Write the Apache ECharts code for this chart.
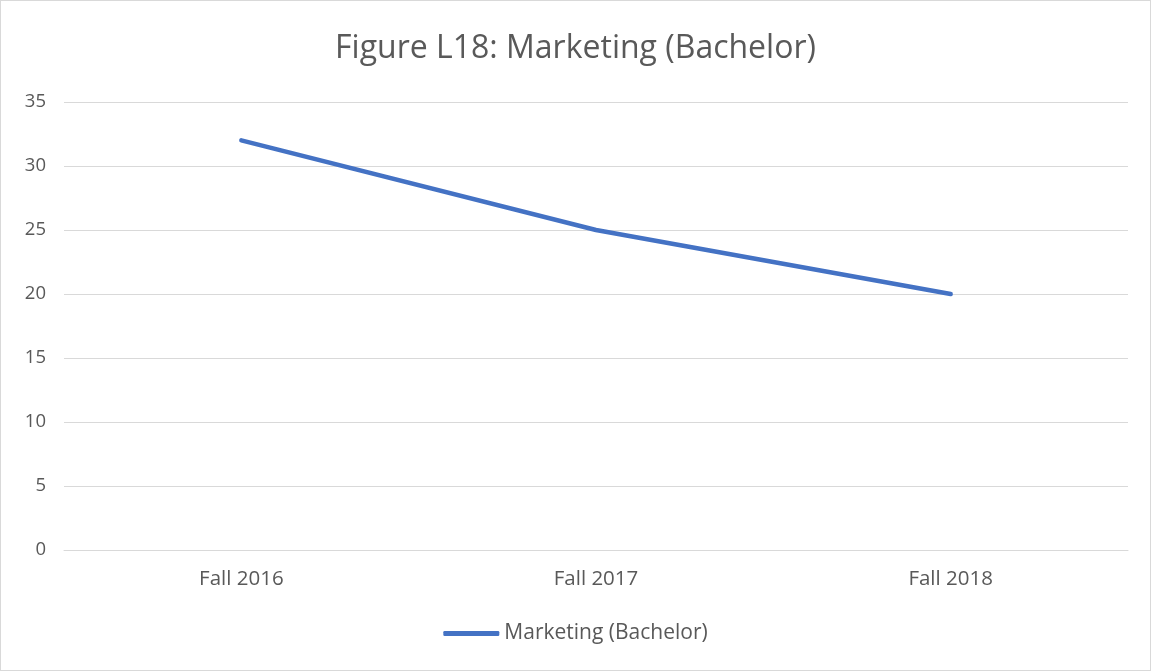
<!DOCTYPE html>
<html><head><meta charset="utf-8">
<script src="https://cdn.jsdelivr.net/npm/echarts@6/dist/echarts.min.js"></script>
<style>html,body{margin:0;padding:0;background:#fff}#c{width:1151px;height:671px;box-sizing:border-box;border:1px solid #d9d9d9}</style>
</head><body><div id="c"></div>
<script>
const categories = ["Fall 2016", "Fall 2017", "Fall 2018"];
const seriesName = "Marketing (Bachelor)";
const values = [32, 25, 20];
const titleText = "Figure L18: Marketing (Bachelor)";

const chart = echarts.init(document.getElementById('c'));
const font = "Open Sans";
chart.setOption({
  animation: false,
  title: {text: titleText, left: 'center', top: 27,
    textStyle: {fontFamily: font, fontWeight: 'normal', fontSize: 32, color: '#595959'}},
  grid: {left: 63, right: 22, top: 101, bottom: 120, containLabel: false},
  legend: {bottom: 21, left: 'center', itemWidth: 56, itemHeight: 5, itemGap: 3,
    icon: 'roundRect',
    textStyle: {fontFamily: font, fontSize: 21, color: '#595959'},
    data: [{name: seriesName}]},
  xAxis: {type: 'category', data: categories, boundaryGap: true,
    axisLine: {lineStyle: {color: '#d9d9d9', width: 1}}, axisTick: {show: false},
    axisLabel: {fontFamily: font, fontSize: 20.5, color: '#595959', margin: 19}},
  yAxis: {type: 'value', min: 0, max: 35, interval: 5,
    axisLine: {show: false}, axisTick: {show: false},
    splitLine: {lineStyle: {color: '#d9d9d9', width: 1}},
    axisLabel: {fontFamily: font, fontSize: 18.5, color: '#595959', margin: 18}},
  series: [{name: seriesName, type: 'line', data: values, symbol: 'none',
    lineStyle: {color: '#4472C4', width: 4.5, cap: 'round'}, itemStyle: {color: '#4472C4'}}]
});
</script></body></html>
